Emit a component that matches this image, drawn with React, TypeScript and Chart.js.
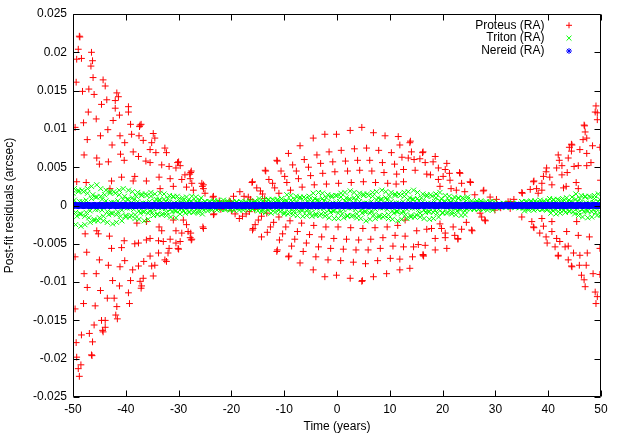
import React, { useEffect, useRef } from "react";
import { Chart, registerables } from "chart.js";

Chart.register(...registerables);

const FONT = "'Liberation Sans', Arial, Helvetica, sans-serif";

// Axis ticks
const xTicks = [-50, -40, -30, -20, -10, 0, 10, 20, 30, 40, 50];
const yTicks = [-0.025, -0.02, -0.015, -0.01, -0.005, 0, 0.005, 0.01, 0.015, 0.02, 0.025];

const seriesNames = ["Proteus (RA)", "Triton (RA)", "Nereid (RA)"];
const seriesColors = ["#ff0000", "#00ff00", "#0000ff"];
const seriesStyles = ["cross", "crossRot", "star"];

// Residual values below are in units of 1e-4 arcsec; times in years
const RES_UNIT = 1e-4;

// Proteus: [time, residual]
const proteusEarly: [number, number][] = [
  [-48.7,220],[-48.8,221],[-49.0,204],[-46.5,200],[-49.3,191],[-48.4,192],[-46.3,189],[-46.6,182],
  [-46.2,167],[-44.3,164],[-43.9,156],[-49.4,161],[-47.0,152],[-48.2,149],[-46.0,145],[-41.7,147],
  [-41.4,142],[-43.6,138],[-44.6,132],[-42.0,137],[-42.0,127],[-39.5,129],[-39.5,122],[-41.2,118],
  [-47.1,122],[-45.6,113],[-42.4,111],[-48.0,108],[-39.1,106],[-37.3,105],[-37.1,106],[-37.4,103],
  [-49.6,102],[-43.4,99],[-34.8,94],[-38.9,93],[-41.1,91],[-37.5,91],[-44.8,91],[-34.5,88],
  [-36.7,85],[-47.3,86],[-35.1,82],[-40.2,82],[-42.6,79],[-32.6,75],[-35.4,73],[-32.3,69],
  [-38.6,70],[-34.3,69],[-41.0,67],[-47.9,66],[-37.6,64],[-30.2,56],[-30.0,57],[-40.3,59],
  [-45.5,62],[-36.2,58],[-35.4,56],[-43.3,57],[-45.0,54],[-33.2,53],[-31.8,51],[-29.7,52],
  [-30.5,49],[-27.7,43],[-27.6,45],[-27.9,41],[-28.8,40],[-31.6,35],[-33.7,37],[-40.8,37],
  [-38.3,38],[-38.6,32],[-42.7,32],[-36.1,32],[-29.4,34],[-27.8,35],[-27.5,29],[-25.6,29],
  [-25.3,22],[-25.3,27],[-25.5,25],[-28.5,24],[-31.0,25],[-33.5,22],[-47.5,30],[-49.3,31],
  [-23.4,12],[-23.5,11],[-25.0,16],[-27.2,20],[-43.0,22],
  [-47.7,-37],[-45.5,-33],[-45.2,-37],[-43.1,-40],[-42.7,-56],[-40.3,-46],[-40.8,-55],[-37.9,-23],
  [-38.3,-50],[-37.6,-49],[-36.1,-21],[-36.1,-45],[-35.4,-43],[-33.7,-28],[-33.2,-33],[-33.8,-46],
  [-32.9,-47],[-31.6,-44],[-31.0,-19],[-30.5,-33],[-30.5,-49],[-29.7,-47],[-29.1,-19],[-28.5,-25],
  [-29.4,-36],[-28.2,-34],[-27.8,-42],[-27.5,-44],[-27.6,-45],[-30.1,-56],[-30.0,-57],[-31.8,-56],
  [-32.0,-62],[-32.3,-73],[-32.6,-71],[-33.8,-62],[-35.4,-66],[-34.5,-78],[-35.1,-79],[-34.8,-92],
  [-36.6,-73],[-37.6,-79],[-38.7,-84],[-40.2,-72],[-41.1,-80],[-43.3,-78],[-45.0,-71],[-47.4,-61],
  [-49.6,-67],[-47.9,-89],[-45.6,-89],[-42.5,-98],[-41.2,-105],[-39.1,-98],[-37.3,-99],[-37.0,-105],
  [-37.1,-108],[-36.7,-95],[-39.5,-114],[-39.3,-128],[-42.2,-121],[-43.5,-121],[-44.8,-111],[-47.3,-107],
  [-45.8,-131],[-48.0,-128],[-49.6,-135],[-41.7,-132],[-41.9,-143],[-41.6,-148],[-44.6,-150],[-43.9,-150],
  [-46.0,-156],[-43.9,-159],[-44.3,-165],[-44.4,-163],[-48.4,-169],[-46.9,-167],[-46.3,-178],[-49.4,-179],
  [-46.5,-195],[-46.4,-196],[-49.3,-198],[-48.5,-208],[-49.0,-213],[-48.8,-223],[-27.7,-36],[-25.3,-30],
  [-25.4,-28],[-23.4,-12],[-23.3,-11],
];

const proteusMid: [number, number][] = [
  [-22.3,6],[-21.5,3],[-20.4,6],[-20.2,5],[-19.6,12],
  [-18.4,18],[-16.0,31],[-16.1,30],[-13.6,46],[-13.5,45],[-11.4,59],[-11.3,58],[-9.2,68],[-7.0,78],
  [-4.5,88],[-2.3,93],[-0.1,93],[2.5,98],[4.7,102],[6.9,95],[9.1,91],[11.6,90],[13.8,82],[13.9,84],
  [16.2,69],[16.3,70],[18.6,64],[20.8,55],[23.2,43],[23.3,42],[25.2,31],[25.3,30],[27.7,19],[27.8,20],[30.2,8],
  [-17.6,12],[-15.2,23],[-12.9,34],[-10.6,45],[-8.4,53],[-6.2,60],[-3.8,66],[-1.5,70],[0.8,72],
  [3.3,74],[5.6,75],[7.9,72],[10.3,69],
  [-16.8,11],[-14.5,19],[-12.2,29],[-9.9,38],[-7.7,45],[-5.4,50],[-3.1,55],[-0.8,57],[1.6,58],
  [3.9,59],[6.2,59],[8.6,56],[10.9,54],
  [-16.4,8],[-14.1,15],[-11.8,23],[-9.5,30],[-7.3,35],[-5.0,39],[-2.7,42],[-0.4,44],[2.0,45],
  [4.3,46],[6.6,45],[8.9,43],[11.3,41],
  [-15.9,4],[-13.7,9],[-11.0,16],[-8.8,20],[-6.6,24],[-4.3,27],[-2.0,28],[0.3,29],[2.7,30],
  [5.0,31],[7.3,30],[9.6,29],[11.2,28],
  [11.9,79],[14.1,70],[12.3,63],[13.5,62],[14.6,60],[15.7,61],[16.7,56],[18.2,57],[12.6,47],
  [14.8,46],[17.0,41],[17.7,40],[19.2,49],[20.5,47],[21.3,42],[20.1,38],[19.2,34],[21.4,33],
  [23.6,29],[19.5,25],[21.6,22],[24.2,18],[22.6,20],[12.6,31],[26.1,14],[29.0,11],
  [-22.0,-5],[-21.0,-3],[-20.0,-7],[-19.3,-11],
  [-18.5,-17],[-16.0,-32],[-15.9,-30],[-14.3,-41],[-11.4,-60],[-11.3,-58],[-9.2,-67],[-9.1,-66],
  [-7.0,-75],[-4.5,-84],[-2.3,-93],[-0.1,-91],[2.5,-95],[4.7,-99],[4.8,-98],[6.9,-93],[9.4,-89],
  [11.9,-84],[13.8,-82],[16.3,-65],[16.4,-66],[18.6,-58],[20.8,-56],[22.9,-43],[22.9,-44],
  [25.5,-32],[25.6,-33],[28.0,-19],[28.1,-20],[29.9,-6],
  [-17.9,-14],[-15.5,-25],[-13.2,-35],[-10.9,-45],[-8.6,-53],[-6.4,-60],[-4.0,-67],[-1.7,-71],
  [0.7,-72],[3.1,-74],[5.4,-76],[7.7,-72],[10.1,-69],
  [-17.2,-11],[-14.9,-19],[-12.6,-28],[-10.3,-37],[-8.0,-44],[-5.8,-49],[-3.5,-54],[-1.2,-56],
  [1.2,-57],[3.6,-58],[5.9,-58],[8.2,-56],[10.6,-53],
  [-16.6,-8],[-14.3,-14],[-12.0,-22],[-9.7,-28],[-7.5,-34],[-5.2,-38],[-2.9,-41],[-0.6,-43],
  [1.8,-44],[4.1,-45],[6.4,-44],[8.7,-42],[11.0,-39],
  [-15.6,-5],[-13.3,-10],[-11.0,-15],[-8.9,-20],[-6.7,-23],[-4.4,-26],[-2.1,-28],[0.2,-28],
  [2.6,-29],[4.9,-30],[7.2,-29],[9.5,-28],[11.5,-26],
  [12.9,-19],[15.1,-33],[17.0,-31],[17.9,-30],[19.8,-30],[22.0,-28],[24.5,-22],[27.4,-15],
  [12.9,-40],[12.6,-54],[14.5,-54],[15.4,-51],[16.7,-52],[18.6,-43],[20.5,-42],[22.3,-39],
  [20.5,-36],[14.3,-67],[11.9,-70],[19.5,-24],[23.6,-31],[27.1,-10],[16.3,-64],
];

const proteusLate: [number, number][] = [
  [49.05,130],[48.9,122],[49.3,121],[49.3,112],[46.8,105],[46.9,104],[47.0,96],[46.6,86],[47.3,88],
  [49.8,76],[48.4,78],[44.4,80],[44.5,79],[44.0,76],[44.4,71],[46.0,73],[47.3,68],[41.9,66],
  [43.8,62],[42.1,59],[48.1,56],[47.3,52],[45.7,52],[44.9,51],[41.6,49],[42.6,52],[39.7,49],
  [39.6,44],[43.6,43],[39.1,38],[40.3,37],[42.6,40],[49.9,33],[45.3,30],[43.4,25],[45.7,22],
  [42.9,23],[40.7,27],[38.8,29],[37.2,31],[37.3,32],[37.8,22],[36.6,21],[38.8,20],[35.0,17],
  [35.1,16],[38.1,16],[32.4,5],[32.8,5],[31.0,-3],[32.8,-4],[33.5,8],
  [35.0,-15],[37.2,-28],[37.3,-29],[36.9,-21],[38.8,-17],[39.1,-27],[40.7,-21],[38.4,-36],
  [39.6,-41],[39.8,-49],[40.7,-34],[41.6,-43],[41.3,-54],[42.2,-47],[43.5,-34],[43.2,-54],
  [41.9,-65],[41.9,-66],[43.8,-53],[45.4,-21],[45.7,-39],[47.8,-41],[49.8,-56],[44.8,-62],
  [46.0,-65],[47.4,-62],[43.8,-71],[44.4,-79],[44.5,-80],[45.9,-78],[47.2,-78],[46.3,-91],
  [46.8,-97],[47.0,-106],[48.5,-89],[49.8,-90],[48.9,-113],[49.3,-119],[49.05,-128],
];

// Triton: epochs (two observations per epoch: a and b)
const tritonT1 = [
  -50,-49.75,-49.5,-49.25,-49,-48.75,-48.5,-48.25,-48,-47.75,-47.5,-47.25,-47,-46.75,-46.5,-46.25,-46,-45.75,-45.5,-45.25,
  -45,-44.75,-44.5,-44.25,-44,-43.75,-43.5,-43.25,-43,-42.75,-42.5,-42.25,-42,-41.75,-41.5,-41.25,-41,-40.75,-40.5,-40.25,
  -40,-39.75,-39.5,-39.25,-39,-38.75,-38.5,-38.25,-38,-37.75,-37.5,-37.25,-37,-36.75,-36.5,-36.25,-36,-35.75,-35.5,-35.25,
  -35,-34.75,-34.5,-34.25,-34,-33.75,-33.5,-33.25,-33,-32.75,-32.5,-32.25,-32,-31.75,-31.5,-31.25,-31,-30.75,-30.5,-30.25,
  -30,-29.75,-29.5,-29.25,-29,-28.75,-28.5,-28.25,-28,-27.75,-27.5,-27.25,-27,-26.75,-26.5,-26.25,-26,-25.75,-25.5,-25.25,
  -25,-24.75,-24.5,-24.25,-24,-23.75,-23.5,-23.25,-23,-22.75,-22.5,-22.25,-22,-21.75,-21.5,-21.25,-21,-20.75,-20.5,-20.25,
  -20,-19.75,-19.5,-19.25,-19,-18.75,-18.5,-18.25,-18,-17.75,-17.5,-17.25,-17,-16.75,-16.5,-16.25,-16,-15.75,-15.5,-15.25,
  -15,-14.75,-14.5,-14.25,-14,-13.75,-13.5,-13.25,-13,-12.75,-12.5,-12.25,-12,-11.75,-11.5,-11.25,-11,-10.75,-10.5,-10.25,
  -10,-9.75,-9.5,-9.25,-9,-8.75,-8.5,-8.25,-8,-7.75,-7.5,-7.25,-7,-6.75,-6.5,-6.25,-6,-5.75,-5.5,-5.25,
  -5,-4.75,-4.5,-4.25,-4,-3.75,-3.5,-3.25,-3,-2.75,-2.5,-2.25,-2,-1.75,-1.5,-1.25,-1,-0.75,-0.5,-0.25,
];
const tritonRes1a = [
  0,22,-9,-14,18,5,-27,5,18,-14,-9,22,0,-22,9,14,-18,-5,27,-5,
  -16,12,8,-20,0,20,-8,-12,16,4,-24,4,16,-12,-8,20,0,-20,8,12,
  -13,-3,20,-3,-13,10,7,-17,0,17,-7,-10,13,3,-20,3,13,-10,-7,17,
  0,-13,5,8,-11,-3,16,-3,-11,8,5,-13,0,13,-5,-8,11,3,-16,3,
  8,-6,-4,10,0,-10,4,6,-8,-2,12,-2,-8,6,4,-10,0,10,-4,-6,
  5,1,-7,1,5,-4,-2,6,0,-6,2,4,-5,-1,7,-1,-5,4,2,-6,
  0,5,-2,-3,4,1,-6,1,4,-3,-2,5,0,-5,2,3,-4,-1,6,-1,
  -7,5,3,-8,0,8,-3,-5,7,2,-10,2,7,-5,-3,8,0,-8,3,5,
  -9,-2,14,-2,-9,7,5,-12,0,12,-5,-7,9,2,-14,2,9,-7,-5,12,
  0,-14,6,9,-11,-3,17,-3,-11,9,6,-14,0,14,-6,-9,11,3,-17,3,
];
const tritonRes1b = [
  16,7,-25,2,20,-11,-11,20,2,-25,7,16,-16,-7,25,-2,-20,11,11,-20,
  -2,22,-6,-14,14,6,-22,2,18,-10,-10,18,2,-22,6,14,-14,-6,22,-2,
  -15,8,8,-15,-2,18,-5,-12,12,5,-18,2,15,-8,-8,15,2,-18,5,12,
  -9,-4,15,-1,-12,7,7,-12,-1,15,-4,-9,9,4,-15,1,12,-7,-7,12,
  1,-11,3,7,-7,-3,11,-1,-9,5,5,-9,-1,11,-3,-7,7,3,-11,1,
  5,-3,-3,5,1,-6,2,4,-4,-2,6,-1,-5,3,3,-5,-1,6,-2,-4,
  3,2,-6,0,5,-3,-3,5,0,-6,2,3,-3,-2,6,0,-5,3,3,-5,
  -1,9,-3,-6,6,3,-9,1,8,-4,-4,8,1,-9,3,6,-6,-3,9,-1,
  -11,6,6,-11,-1,13,-4,-8,8,4,-13,1,11,-6,-6,11,1,-13,4,8,
  -10,-4,16,-1,-13,7,7,-13,-1,16,-4,-10,10,4,-16,1,13,-7,-7,13,
];
const tritonT2 = [
  0,0.25,0.5,0.75,1,1.25,1.5,1.75,2,2.25,2.5,2.75,3,3.25,3.5,3.75,4,4.25,4.5,4.75,
  5,5.25,5.5,5.75,6,6.25,6.5,6.75,7,7.25,7.5,7.75,8,8.25,8.5,8.75,9,9.25,9.5,9.75,
  10,10.25,10.5,10.75,11,11.25,11.5,11.75,12,12.25,12.5,12.75,13,13.25,13.5,13.75,14,14.25,14.5,14.75,
  15,15.25,15.5,15.75,16,16.25,16.5,16.75,17,17.25,17.5,17.75,18,18.25,18.5,18.75,19,19.25,19.5,19.75,
  20,20.25,20.5,20.75,21,21.25,21.5,21.75,22,22.25,22.5,22.75,23,23.25,23.5,23.75,24,24.25,24.5,24.75,
  25,25.25,25.5,25.75,26,26.25,26.5,26.75,27,27.25,27.5,27.75,28,28.25,28.5,28.75,29,29.25,29.5,29.75,
  30,30.25,30.5,30.75,31,31.25,31.5,31.75,32,32.25,32.5,32.75,33,33.25,33.5,33.75,34,34.25,34.5,34.75,
  35,35.25,35.5,35.75,36,36.25,36.5,36.75,37,37.25,37.5,37.75,38,38.25,38.5,38.75,39,39.25,39.5,39.75,
  40,40.25,40.5,40.75,41,41.25,41.5,41.75,42,42.25,42.5,42.75,43,43.25,43.5,43.75,44,44.25,44.5,44.75,
  45,45.25,45.5,45.75,46,46.25,46.5,46.75,47,47.25,47.5,47.75,48,48.25,48.5,48.75,49,49.25,49.5,49.75,50,
];
const tritonRes2a = [
  13,-10,-6,16,0,-16,6,10,-13,-3,19,-3,-13,10,6,-16,0,16,-6,-10,
  13,3,-20,3,13,-10,-7,17,0,-17,7,10,-13,-3,20,-3,-13,10,7,-17,
  0,17,-7,-10,13,3,-20,3,13,-10,-7,17,0,-17,7,10,-13,-3,20,-3,
  -12,9,6,-15,0,15,-6,-9,12,3,-18,3,12,-9,-6,15,0,-15,6,9,
  -9,-2,13,-2,-9,7,4,-11,0,11,-4,-7,9,2,-13,2,9,-7,-4,11,
  0,-5,2,3,-4,-1,6,-1,-4,3,2,-5,0,5,-2,-3,4,1,-6,1,
  2,-2,-1,2,0,-2,1,2,-2,-1,3,-1,-2,2,1,-2,0,2,-1,-2,
  5,1,-7,1,5,-4,-2,6,0,-6,2,4,-5,-1,7,-1,-5,4,2,-6,
  0,9,-4,-6,7,2,-11,2,7,-6,-4,9,0,-9,4,6,-7,-2,11,-2,
  -11,8,5,-13,0,13,-5,-8,11,3,-16,3,11,-8,-5,13,0,-13,5,8,-11,
];
const tritonRes2b = [
  2,-17,5,11,-11,-5,17,-2,-14,8,8,-14,-2,17,-5,-11,11,5,-17,2,
  15,-8,-8,15,2,-18,5,12,-12,-5,18,-2,-15,8,8,-15,-2,18,-5,-12,
  12,5,-18,2,15,-8,-8,15,2,-18,5,12,-12,-5,18,-2,-15,8,8,-15,
  -1,17,-5,-10,10,5,-17,1,14,-8,-8,14,1,-17,5,10,-10,-5,17,-1,
  -10,5,5,-10,-1,12,-3,-8,8,3,-12,1,10,-5,-5,10,1,-12,3,8,
  -3,-2,6,0,-5,3,3,-5,0,6,-2,-3,3,2,-6,0,5,-3,-3,5,
  0,-3,1,2,-2,-1,3,0,-2,1,1,-2,0,3,-1,-2,2,1,-3,0,
  5,-3,-3,5,1,-6,2,4,-4,-2,6,-1,-5,3,3,-5,-1,6,-2,-4,
  6,3,-10,1,8,-5,-5,8,1,-10,3,6,-6,-3,10,-1,-8,5,5,-8,
  -1,15,-4,-9,9,4,-15,1,12,-7,-7,12,1,-15,4,9,-9,-4,15,-1,-12,
];

// Nereid: epochs and residuals
const nereidT = [
  -50,-49.5,-49,-48.5,-48,-47.5,-47,-46.5,-46,-45.5,-45,-44.5,-44,-43.5,-43,-42.5,-42,-41.5,-41,-40.5,
  -40,-39.5,-39,-38.5,-38,-37.5,-37,-36.5,-36,-35.5,-35,-34.5,-34,-33.5,-33,-32.5,-32,-31.5,-31,-30.5,
  -30,-29.5,-29,-28.5,-28,-27.5,-27,-26.5,-26,-25.5,-25,-24.5,-24,-23.5,-23,-22.5,-22,-21.5,-21,-20.5,
  -20,-19.5,-19,-18.5,-18,-17.5,-17,-16.5,-16,-15.5,-15,-14.5,-14,-13.5,-13,-12.5,-12,-11.5,-11,-10.5,
  -10,-9.5,-9,-8.5,-8,-7.5,-7,-6.5,-6,-5.5,-5,-4.5,-4,-3.5,-3,-2.5,-2,-1.5,-1,-0.5,
  0,0.5,1,1.5,2,2.5,3,3.5,4,4.5,5,5.5,6,6.5,7,7.5,8,8.5,9,9.5,
  10,10.5,11,11.5,12,12.5,13,13.5,14,14.5,15,15.5,16,16.5,17,17.5,18,18.5,19,19.5,
  20,20.5,21,21.5,22,22.5,23,23.5,24,24.5,25,25.5,26,26.5,27,27.5,28,28.5,29,29.5,
  30,30.5,31,31.5,32,32.5,33,33.5,34,34.5,35,35.5,36,36.5,37,37.5,38,38.5,39,39.5,
  40,40.5,41,41.5,42,42.5,43,43.5,44,44.5,45,45.5,46,46.5,47,47.5,48,48.5,49,49.5,50,
];
const nereidRes = [
  0,0.2,-0.1,0.1,-0.2,0.1,0,-0.1,0.2,-0.2,0.1,0,-0.1,0.1,-0.2,0.2,0,-0.1,0.1,0,
  0.1,-0.1,0.2,0,-0.2,0.1,-0.1,0,0.2,-0.1,0,0.1,-0.2,0.1,0,-0.1,0.2,-0.2,0,0.1,
  -0.1,0,0.1,-0.2,0.2,0,-0.1,0.1,0,-0.1,0.2,-0.1,0,0.1,-0.2,0.1,0,-0.1,0.1,0,
  0,0.1,-0.1,0.2,-0.1,0,0.1,-0.2,0.1,0,-0.1,0.2,0,-0.1,0.1,-0.2,0.1,0,0.1,-0.1,
  0.2,-0.1,0,0.1,-0.2,0.1,0,-0.1,0.2,0,-0.1,0.1,-0.2,0,0.1,-0.1,0.2,-0.1,0,0.1,
  -0.1,0.2,0,-0.1,0.1,-0.2,0.1,0,-0.1,0.2,0,0.1,-0.2,0.1,-0.1,0,0.2,-0.1,0.1,0,
  0,-0.1,0.2,-0.2,0.1,0,-0.1,0.1,0.2,-0.1,0,-0.2,0.1,0,0.1,-0.1,0.2,0,-0.1,0.1,
  0.1,0,-0.1,0.2,-0.1,0.1,0,-0.2,0.1,0,0.2,-0.1,0,0.1,-0.1,0.2,-0.2,0,0.1,-0.1,
  -0.2,0.1,0,-0.1,0.2,0,0.1,-0.1,0,0.2,-0.1,0.1,-0.2,0,0.1,0,-0.1,0.2,-0.1,0,
  0.1,-0.1,0.2,0,-0.2,0.1,0,-0.1,0.1,0.2,-0.1,0,0.1,-0.2,0.1,0,-0.1,0.2,0,-0.1,0,
];

const fromPairs = (list: [number, number][]) => list.map(([t, r]) => ({ x: t, y: r * RES_UNIT }));
const fromArrays = (ts: number[], rs: number[]) => ts.map((t, i) => ({ x: t, y: rs[i] * RES_UNIT }));

const strokeMarker = (ctx: CanvasRenderingContext2D, style: string, x: number, y: number, r: number) => {
  const d = r * Math.SQRT1_2;
  ctx.beginPath();
  if (style === "cross" || style === "star") {
    ctx.moveTo(x - r, y); ctx.lineTo(x + r, y);
    ctx.moveTo(x, y - r); ctx.lineTo(x, y + r);
  }
  if (style === "crossRot" || style === "star") {
    ctx.moveTo(x - d, y - d); ctx.lineTo(x + d, y + d);
    ctx.moveTo(x - d, y + d); ctx.lineTo(x + d, y - d);
  }
  ctx.stroke();
};

const framePlugin = {
  id: "gnuplotFrame",
  afterDatasetsDraw(chart: any) {
    const { ctx, chartArea: a, scales } = chart;
    const L = Math.round(a.left) + 0.5;
    const R = Math.round(a.right) - 0.5;
    const T = Math.round(a.top) + 0.5;
    const B = Math.round(a.bottom) - 0.5;
    const tick = 6;
    ctx.save();
    ctx.strokeStyle = "#000";
    ctx.lineWidth = 1;
    ctx.beginPath();
    ctx.rect(L, T, R - L, B - T);
    scales.x.ticks.forEach((t: any) => {
      const px = Math.round(scales.x.getPixelForValue(t.value)) + 0.5;
      ctx.moveTo(px, B); ctx.lineTo(px, B - tick);
      ctx.moveTo(px, T); ctx.lineTo(px, T + tick);
    });
    scales.y.ticks.forEach((t: any) => {
      const py = Math.round(scales.y.getPixelForValue(t.value)) + 0.5;
      ctx.moveTo(L, py); ctx.lineTo(L + tick, py);
      ctx.moveTo(R, py); ctx.lineTo(R - tick, py);
    });
    ctx.stroke();

    // key (legend), gnuplot style: right-aligned text, marker on the right
    ctx.font = `12px ${FONT}`;
    ctx.textAlign = "right";
    ctx.textBaseline = "middle";
    const textX = a.right - 56.5;
    const markX = a.right - 32;
    seriesNames.forEach((name, i) => {
      const y = a.top + 11.3 + i * 12.85;
      ctx.fillStyle = "#000";
      ctx.fillText(name, textX, y);
      ctx.strokeStyle = seriesColors[i];
      ctx.lineWidth = 1;
      strokeMarker(ctx, seriesStyles[i], markX, y, i === 1 ? 3.5 : 3);
    });
    ctx.restore();
  },
};

export default function App() {
  const ref = useRef<HTMLCanvasElement | null>(null);
  useEffect(() => {
    if (!ref.current) return;
    const chart = new Chart(ref.current, {
      type: "scatter",
      data: {
        datasets: [
          {
            label: seriesNames[0],
            data: [...fromPairs(proteusEarly), ...fromPairs(proteusMid), ...fromPairs(proteusLate)],
            pointStyle: "cross",
            pointRadius: 3.4,
            pointBorderWidth: 1,
            pointBorderColor: seriesColors[0],
            pointBackgroundColor: seriesColors[0],
            borderColor: seriesColors[0],
            order: 2,
          },
          {
            label: seriesNames[1],
            data: [
              ...fromArrays(tritonT1, tritonRes1a),
              ...fromArrays(tritonT1, tritonRes1b),
              ...fromArrays(tritonT2, tritonRes2a),
              ...fromArrays(tritonT2, tritonRes2b),
            ],
            pointStyle: "crossRot",
            pointRadius: 3.6,
            pointBorderWidth: 1,
            pointBorderColor: seriesColors[1],
            pointBackgroundColor: seriesColors[1],
            borderColor: seriesColors[1],
            order: 1,
          },
          {
            label: seriesNames[2],
            data: fromArrays(nereidT, nereidRes),
            pointStyle: "star",
            pointRadius: 3.4,
            pointBorderWidth: 2.4,
            pointBorderColor: seriesColors[2],
            pointBackgroundColor: seriesColors[2],
            borderColor: seriesColors[2],
            order: 0,
          },
        ],
      } as any,
      options: {
        responsive: false,
        animation: false,
        devicePixelRatio: 1,
        events: [],
        layout: { padding: { top: 14, right: 22, left: 0, bottom: 0 } },
        plugins: { legend: { display: false }, tooltip: { enabled: false } },
        scales: {
          x: {
            type: "linear",
            min: -50,
            max: 50,
            afterBuildTicks: (s: any) => { s.ticks = xTicks.map((v) => ({ value: v })); },
            afterFit: (s: any) => { s.height = 39; },
            ticks: {
              color: "#000",
              font: { family: FONT, size: 12 },
              padding: 5,
              maxRotation: 0,
              autoSkip: false,
              callback: (v: any) => String(v),
            },
            grid: { display: false, drawTicks: false },
            border: { display: false },
            title: {
              display: true,
              text: "Time (years)",
              color: "#000",
              font: { family: FONT, size: 12 },
              padding: { top: 0, bottom: 2 },
            },
          },
          y: {
            type: "linear",
            min: -0.025,
            max: 0.025,
            afterBuildTicks: (s: any) => { s.ticks = yTicks.map((v) => ({ value: v })); },
            afterFit: (s: any) => { s.width = 73; },
            ticks: {
              color: "#000",
              font: { family: FONT, size: 12 },
              padding: 6,
              autoSkip: false,
              callback: (v: any) => String(v),
            },
            grid: { display: false, drawTicks: false },
            border: { display: false },
            title: {
              display: true,
              text: "Post-fit residuals (arcsec)",
              color: "#000",
              font: { family: FONT, size: 12 },
              padding: { top: 2, bottom: 0 },
            },
          },
        },
      } as any,
      plugins: [framePlugin],
    });
    return () => chart.destroy();
  }, []);

  return (
    <div style={{ position: "absolute", left: 0, top: 0, width: 623, height: 436, background: "#fff" }}>
      <canvas ref={ref} width={623} height={436} style={{ display: "block", width: 623, height: 436 }} />
    </div>
  );
}
